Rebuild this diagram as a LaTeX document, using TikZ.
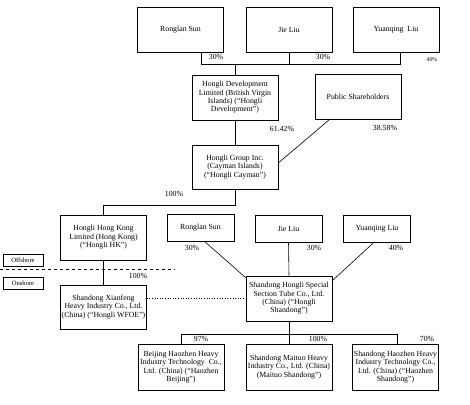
\documentclass[tikz,border=0pt]{standalone}
\usepackage{fontspec}
\setmainfont{Liberation Serif}
\begin{document}
\begin{tikzpicture}[x=1pt,y=-1pt,
  box/.style={draw,line width=.6pt,align=center,inner sep=0pt,minimum width=86pt,minimum height=45pt,font=\fontsize{7.8}{8.4}\selectfont},
  sbox/.style={box,minimum width=67pt,minimum height=27pt},
  pct/.style={inner sep=0pt,font=\fontsize{7.8}{8.4}\selectfont},
  tag/.style={draw,line width=.5pt,minimum width=40pt,minimum height=12pt,inner sep=0pt,font=\fontsize{6.6}{7}\selectfont}]
\useasboundingbox (0,0) rectangle (470,404);
% owners of Hongli Development
\node[box] (rs1) at (180.5,29.5) {Ronglan Sun};
\node[box] (jl1) at (289,29.5) {Jie Liu};
\node[box] (yl1) at (396,29.5) {Yuanqing~ Liu};
\node[box] (dev) at (235,97.5) {Hongli Development\\Limited (British Virgin\\Islands) (``Hongli\\Development'')};
\node[box] (pub) at (358,96.5) {Public Shareholders};
\node[box,minimum height=44pt] (cay) at (235,167) {Hongli Group Inc.\\(Cayman Islands)\\(``Hongli Cayman'')};
\node[box] (hk) at (103.5,237.5) {Hongli Hong Kong\\Limited (Hong Kong)\\(``Hongli HK'')};
\node[sbox] (rs2) at (200.5,228) {Ronglan Sun};
\node[sbox] (jl2) at (288.5,228.5) {Jie Liu};
\node[sbox] (yl2) at (377,228.5) {Yuanqing Liu};
\node[box] (hs) at (289,298.5) {Shandong Hongli Special\\Section Tube Co., Ltd.\\(China) (``Hongli\\Shandong'')};
\node[box,minimum height=44pt] (wfoe) at (103.5,307) {Shandong Xianfeng\\Heavy Industry Co., Ltd.\\(China) (``Hongli WFOE'')};
\node[tag] (off) at (23,260) {Offshore};
\node[tag] (on) at (23,283) {Onshore};
% subsidiaries of Hongli Shandong
\node[box,minimum height=46pt] (bj) at (181,367) {Beijing Haozhen Heavy\\Industry Technology~ Co.,\\Ltd. (China) (``Haozhen\\Beijing'')};
\node[box,minimum height=46pt] (mt) at (289,367) {Shandong Maituo Heavy\\Industry Co., Ltd. (China)\\(Maituo Shandong'')};
\node[box,minimum height=46pt] (sd) at (395.5,367) {Shandong Haozhen Heavy\\Industry Technology Co.,\\Ltd. (China) (``Haozhen\\Shandong'')};
\foreach \x/\y/\t [count=\i] in {216/57/30\%,323/57/30\%,282/129/61.42\%,385/128/38.58\%,174/194/100\%,138/276/100\%,192/248/30\%,314/248/30\%,396/248/40\%,201/339/97\%,318/339/100\%,427/339/70\%}
  \node[pct] (p\i) at (\x,\y) {\t};
\node[pct,font=\fontsize{5.8}{6}\selectfont] (p0) at (432,60) {40\%};
\coordinate (bar) at (235,64);
\coordinate (dl) at (0,269);
\coordinate (dr) at (175,269);
\begin{scope}[line width=.6pt]
\draw ([xshift=20.5pt]rs1.south) |- ([xshift=4pt]yl1.south |- bar) -- ([xshift=4pt]yl1.south);
\draw (jl1.south) -- (jl1.south |- bar);
\draw (bar) -- (dev.north);
\draw (dev.south) -- (cay.north);
\draw ([xshift=15pt]pub.south west) -- ([yshift=4pt]cay.east);
\draw (cay.south) -- ++(0,16) -| (hk.north);
\draw (hk.south) -- (wfoe.north);
\draw[dotted] (hs.west -| wfoe.east) -- (hs.west);
\draw[dashed] (dl) -- (dr);
\draw ([xshift=4.5pt]rs2.south) -- ([yshift=-2pt]hs.north west);
\draw (jl2.south) -- (hs.north);
\draw ([xshift=-3pt]yl2.south) -- ([yshift=-5pt]hs.north east);
\draw (hs.south) -- ++(0,13) coordinate (sub);
\draw (bj.north) |- ([xshift=1.5pt]sd.north |- sub) -- ([xshift=1.5pt]sd.north);
\draw (mt.north) -- (mt.north |- sub);
\end{scope}
\end{tikzpicture}
\end{document}
